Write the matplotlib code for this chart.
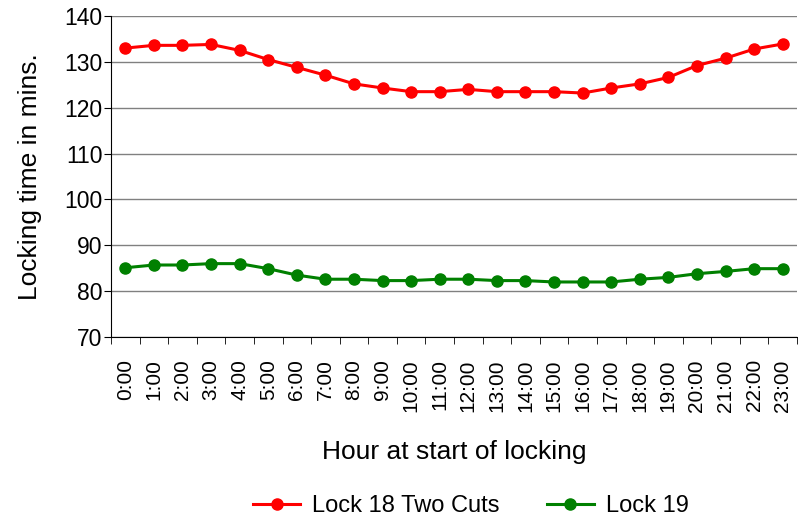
import numpy as np
import matplotlib.pyplot as plt

plt.rcParams['font.family'] = ['Liberation Sans', 'DejaVu Sans']

hours = ['%d:00' % h for h in range(24)]
lock18 = [133.0, 133.6, 133.6, 133.8, 132.5, 130.5, 128.8, 127.1, 125.2, 124.3,
          123.5, 123.5, 124.0, 123.5, 123.5, 123.5, 123.2, 124.3, 125.2, 126.6,
          129.2, 130.8, 132.8, 133.9]
lock19 = [85.1, 85.7, 85.7, 86.0, 86.0, 84.9, 83.5, 82.6, 82.6, 82.3,
          82.3, 82.6, 82.6, 82.3, 82.3, 82.0, 82.0, 82.0, 82.6, 83.0,
          83.8, 84.3, 84.9, 84.9]

fig = plt.figure(figsize=(7.98, 5.18), dpi=100)
ax = fig.add_axes([111/798, 1-337/518, 686/798, 321/518])

x = np.arange(len(hours))
ax.plot(x, lock18, color='#ff0000', marker='o', markersize=8, lw=2.2, label='Lock 18 Two Cuts')
ax.plot(x, lock19, color='#008000', marker='o', markersize=8, lw=2.2, label='Lock 19')

ax.set_xlim(-0.5, len(hours) - 0.5)
ax.set_ylim(70, 140)
ax.set_yticks(range(70, 141, 10))
ax.yaxis.grid(True, color='#808080', lw=1)
ax.set_axisbelow(True)
ax.set_xticks(x)
ax.set_xticklabels(hours, rotation=90, fontsize=15)
ax.set_xticks(np.arange(-0.5, len(hours)), minor=True)
ax.tick_params(axis='x', which='major', length=0, pad=16)
ax.tick_params(axis='x', which='minor', length=5, direction='out')
ax.tick_params(axis='y', labelsize=16.5, length=5, direction='out', pad=1)

for s in ['top', 'right']:
    ax.spines[s].set_visible(False)

ax.set_ylabel('Locking time in mins.', fontsize=19, labelpad=16)
ax.set_xlabel('Hour at start of locking', fontsize=19, labelpad=20)

fig.legend(loc='lower center', ncol=2, frameon=False, fontsize=17,
           bbox_to_anchor=(0.59, -0.04), columnspacing=2.0, handlelength=2,
           handletextpad=0.5)

fig.savefig('out.png', dpi=100)
